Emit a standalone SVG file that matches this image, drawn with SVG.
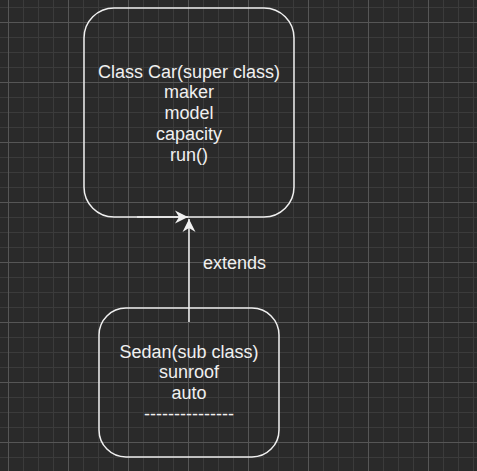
<svg xmlns="http://www.w3.org/2000/svg" width="477" height="471" viewBox="0 0 477 471">
<defs>
<style>
.box{fill:none;stroke:#f0f0f0;stroke-width:1.5}
.edge{fill:none;stroke:#f0f0f0;stroke-width:1.5}
.t{font-family:"Liberation Sans",Arial,sans-serif;font-size:18px;fill:#f0f0f0;text-anchor:middle}
</style>
<pattern id="minor" patternUnits="userSpaceOnUse" x="8" y="7" width="15" height="15">
<path d="M0.5,0 V15 M0,0.5 H15" stroke="#3b3b3b" stroke-width="1" fill="none"/>
</pattern>
<pattern id="major" patternUnits="userSpaceOnUse" x="8" y="22" width="60" height="60">
<path d="M0.5,0 V60 M0,0.5 H60" stroke="#565656" stroke-width="1" fill="none"/>
</pattern>
<marker id="arr" markerUnits="userSpaceOnUse" viewBox="-14 -8 16 16" refX="0" refY="0" markerWidth="16" markerHeight="16" orient="auto">
<path d="M0,0 L-13,-6.5 L-9,0 L-13,6.5 Z" fill="#f0f0f0"/>
</marker>
</defs>
<rect width="477" height="471" fill="#2a2a2a"/>
<rect width="477" height="471" fill="url(#minor)"/>
<rect width="477" height="471" fill="url(#major)"/>
<g id="connectors">
<path class="edge" d="M189,322 V219" marker-end="url(#arr)"/>
<path class="edge" d="M137,217 H188" marker-end="url(#arr)"/>
<text class="t" x="203" y="268.5" style="text-anchor:start">extends</text>
</g>
<g id="car">
<rect class="box" x="84" y="8" width="210" height="209" rx="30" ry="30"/>
<text class="t" x="189" y="77.5">Class Car(super class)</text>
<text class="t" x="189" y="98.3">maker</text>
<text class="t" x="189" y="119.1">model</text>
<text class="t" x="189" y="139.9">capacity</text>
<text class="t" x="189" y="160.7">run()</text>
</g>
<g id="sedan">
<rect class="box" x="99" y="308" width="180" height="149" rx="27" ry="27"/>
<text class="t" x="189" y="357.5">Sedan(sub class)</text>
<text class="t" x="189" y="378.3">sunroof</text>
<text class="t" x="189" y="399.1">auto</text>
<text class="t" x="189" y="419.9">---------------</text>
</g>
</svg>
